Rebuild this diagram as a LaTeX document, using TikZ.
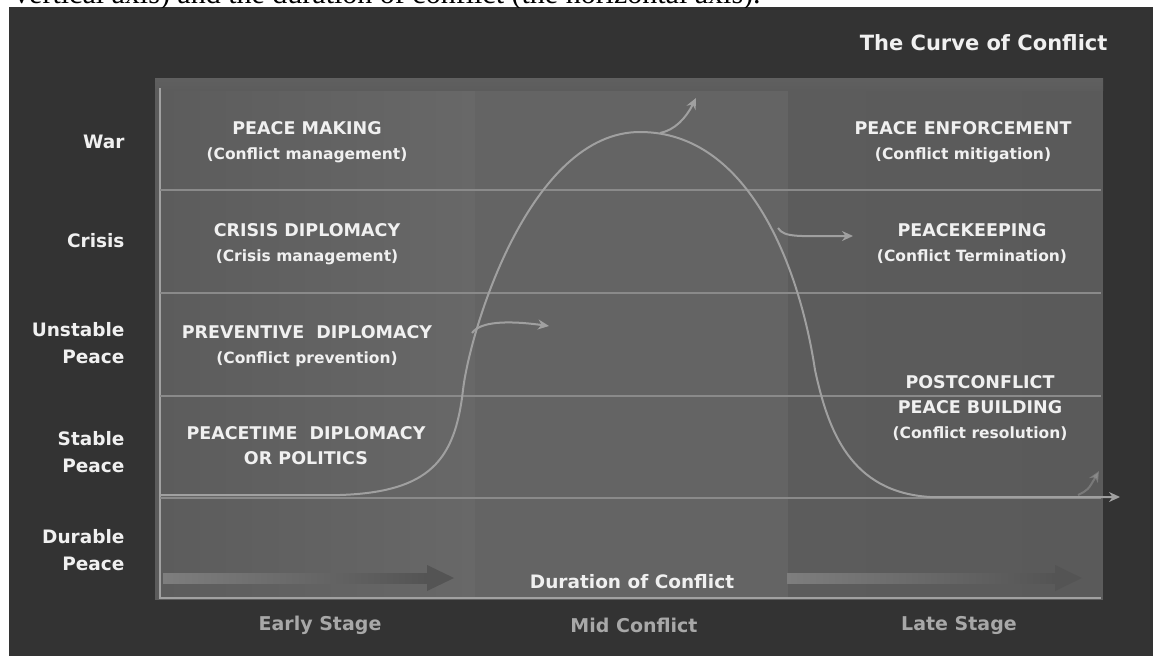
\documentclass[tikz,border=0pt]{standalone}
\usepackage{fontspec}
\setmainfont{DejaVu Sans}
\newfontfamily\captionfont{Liberation Serif}
\usetikzlibrary{arrows.meta,positioning}

\definecolor{bgdark}{HTML}{333333}
\definecolor{panelgray}{HTML}{5C5C5C}
\definecolor{earlylight}{HTML}{686868}
\definecolor{midgray}{HTML}{646464}
\definecolor{lategray}{HTML}{5A5A5A}
\definecolor{gridgray}{HTML}{8A8A8A}
\definecolor{curvegray}{HTML}{A0A0A0}
\definecolor{labelwhite}{HTML}{F0F0F0}
\definecolor{stagegray}{HTML}{A8A8A8}
\definecolor{arrowlight}{HTML}{7E7E7E}
\definecolor{arrowdark}{HTML}{545454}

\begin{document}
\begin{tikzpicture}[x=1pt,y=-1pt,
  rowlabel/.style={anchor=east,align=right,text=labelwhite,
    font=\bfseries\fontsize{18.5}{27}\selectfont},
  phase/.style={align=center,text=labelwhite,
    font=\bfseries\fontsize{17.5}{25}\selectfont},
  stagelabel/.style={text=stagegray,font=\bfseries\fontsize{19}{22}\selectfont},
  curve/.style={draw=curvegray,line width=2pt},
  curvearrow/.style={curve,-{Stealth[length=11pt,width=10pt]}}]
\newcommand{\subline}[1]{{\fontsize{15.5}{25}\selectfont #1}}

\useasboundingbox (0,0) rectangle (1153,656);
\fill[white] (0,0) rectangle (1153,656);
\fill[bgdark] (9,7) rectangle (1153,656);

% cut-off caption line above the figure
\begin{scope}
  \clip (0,0) rectangle (1153,7);
  \node[anchor=base west,inner sep=0pt,font=\captionfont\fontsize{30}{30}\selectfont]
    (caption) at (14,3) {vertical axis) and the duration of conflict (the horizontal axis).};
\end{scope}

% panel with shadow
\fill[black!80] (162,86) rectangle (1116,607);
\fill[panelgray] (155,78) rectangle (1103,600);
\shade[left color=panelgray,right color=earlylight] (160,88) rectangle (475,598);
\fill[midgray] (475,88) rectangle (788,598);
\shade[left color=panelgray,right color=lategray] (788,88) rectangle (1100,598);
\shade[top color=gray!75!black,bottom color=panelgray] (155,78) rectangle (1103,90);
\draw[gridgray!80,line width=1.5pt] (160,88) -- (160,598) -- (1101,598);

% rows
\foreach \y in {190,293,396,498}
  \draw[gridgray,line width=1.6pt] (160,\y) -- (1101,\y);

% title
\node[text=labelwhite,font=\bfseries\fontsize{21}{24}\selectfont,anchor=east] (title) at (1111,43) {The Curve of Conflict};

% row labels
\node[rowlabel] (lblwar) at (128,142) {War};
\node[rowlabel] (lblcrisis) at (128,241) {Crisis};
\node[rowlabel] (lblunstable) at (128,343) {Unstable\\Peace};
\node[rowlabel] (lblstable) at (128,452) {Stable\\Peace};
\node[rowlabel] (lbldurable) at (128,550) {Durable\\Peace};

% phases
\node[phase] (making) at (307,142) {PEACE MAKING\\\subline{(Conflict management)}};
\node[phase] (crisisdip) at (307,244) {CRISIS DIPLOMACY\\\subline{(Crisis management)}};
\node[phase] (preventive) at (307,346) {PREVENTIVE\ \ DIPLOMACY\\\subline{(Conflict prevention)}};
\node[phase] (peacetime) at (306,446) {PEACETIME\ \ DIPLOMACY\\OR POLITICS};
\node[phase] (enforcement) at (963,142) {PEACE ENFORCEMENT\\\subline{(Conflict mitigation)}};
\node[phase] (keeping) at (972,244) {PEACEKEEPING\\\subline{(Conflict Termination)}};
\node[phase] (building) at (980,408) {POSTCONFLICT\\PEACE BUILDING\\\subline{(Conflict resolution)}};

% the curve
\coordinate (c0) at (160,495);
\coordinate (c1) at (340,495);
\coordinate (c2) at (463,390);
\coordinate (peak) at (640,132);
\coordinate (c4) at (815,370);
\coordinate (c5) at (930,497);
\coordinate (cend) at (1120,497);
\draw[curvearrow] (c0) -- (c1) .. controls (430,492) and (455,460) .. (c2)
  .. controls (470,330) and (530,132) .. (peak)
  .. controls (750,132) and (800,270) .. (c4)
  .. controls (828,430) and (850,492) .. (c5) -- (cend);

% arrows off the curve
\coordinate (prevstart) at (472,333);
\coordinate (prevend) at (549,326);
\coordinate (keepstart) at (778,228);
\coordinate (keepend) at (853,236);
\coordinate (warstart) at (660,133);
\coordinate (warend) at (696,98);
\coordinate (endstart) at (1078,495);
\coordinate (endend) at (1099,471);
\draw[curvearrow] (prevstart) .. controls (480,322) and (505,320) .. (prevend);
\draw[curvearrow] (keepstart) .. controls (784,238) and (800,236) .. (keepend);
\draw[curvearrow] (warstart) .. controls (675,130) and (686,118) .. (warend);
\draw[curvearrow,opacity=0.45] (endstart) .. controls (1088,490) .. (endend);

% duration arrows
\coordinate (earlytail) at (163,578);
\coordinate (earlyhead) at (427,578);
\coordinate (latetail) at (787,578);
\coordinate (latehead) at (1055,578);
\shade[left color=arrowlight,right color=arrowdark] ([yshift=-5]earlytail) rectangle ([yshift=5]earlyhead);
\fill[arrowdark] ([yshift=-13]earlyhead) -- ([xshift=27]earlyhead) -- ([yshift=13]earlyhead) -- cycle;
\shade[left color=arrowlight,right color=arrowdark] ([yshift=-5]latetail) rectangle ([yshift=5]latehead);
\fill[arrowdark] ([yshift=-13]latehead) -- ([xshift=27]latehead) -- ([yshift=13]latehead) -- cycle;
\node[text=labelwhite,font=\bfseries\fontsize{18.5}{22}\selectfont] (duration) at (632,582) {Duration of Conflict};

% stages
\node[stagelabel] (early) at (320,625) {Early Stage};
\node[stagelabel] (mid) at (634,625) {Mid Conflict};
\node[stagelabel] (late) at (959,625) {Late Stage};
\end{tikzpicture}
\end{document}
